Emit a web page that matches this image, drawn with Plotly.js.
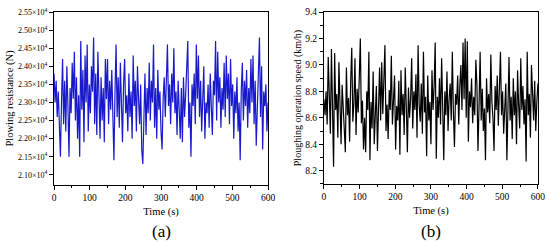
<!DOCTYPE html>
<html>
<head>
<meta charset="utf-8">
<script src="https://cdn.plot.ly/plotly-3.0.1.min.js"></script>
<style>
  body { margin: 0; background: #fff; }
  #chart { width: 550px; height: 242px; }
</style>
</head>
<body>
<div id="chart"></div>
<script>
// sampled every 3 s, 0..600 s
const timeStep = 3;

// plowing resistance, in units of 10^4 N
const resistance = [
  2.38, 2.30, 2.36, 2.26, 2.33, 2.21, 2.15, 2.30, 2.42, 2.24,
  2.36, 2.22, 2.40, 2.29, 2.15, 2.34, 2.27, 2.41, 2.31, 2.44,
  2.25, 2.37, 2.20, 2.32, 2.15, 2.47, 2.28, 2.39, 2.19, 2.43,
  2.30, 2.46, 2.22, 2.35, 2.27, 2.40, 2.33, 2.48, 2.24, 2.38,
  2.21, 2.44, 2.29, 2.20, 2.37, 2.25, 2.34, 2.19, 2.42, 2.31,
  2.42, 2.24, 2.36, 2.28, 2.39, 2.21, 2.14, 2.33, 2.46, 2.26,
  2.37, 2.23, 2.41, 2.30, 2.19, 2.35, 2.42, 2.27, 2.32, 2.22,
  2.38, 2.26, 2.33, 2.20, 2.43, 2.29, 2.36, 2.22, 2.40, 2.31,
  2.24, 2.35, 2.17, 2.13, 2.30, 2.38, 2.21, 2.34, 2.27, 2.41,
  2.25, 2.36, 2.30, 2.46, 2.23, 2.34, 2.20, 2.39, 2.28, 2.33,
  2.22, 2.17, 2.31, 2.37, 2.26, 2.40, 2.46, 2.29, 2.35, 2.24,
  2.38, 2.30, 2.45, 2.27, 2.33, 2.21, 2.36, 2.28, 2.20, 2.34,
  2.19, 2.37, 2.26, 2.32, 2.42, 2.47, 2.23, 2.30, 2.15, 2.35,
  2.29, 2.38, 2.24, 2.46, 2.31, 2.43, 2.26, 2.36, 2.22, 2.33,
  2.40, 2.20, 2.30, 2.27, 2.35, 2.23, 2.38, 2.29, 2.21, 2.36,
  2.32, 2.47, 2.25, 2.44, 2.30, 2.37, 2.23, 2.34, 2.28, 2.41,
  2.26, 2.43, 2.31, 2.38, 2.24, 2.42, 2.29, 2.35, 2.20, 2.33,
  2.27, 2.37, 2.22, 2.30, 2.14, 2.33, 2.41, 2.25, 2.36, 2.29,
  2.39, 2.23, 2.34, 2.27, 2.42, 2.30, 2.43, 2.24, 2.36, 2.18,
  2.31, 2.38, 2.48, 2.26, 2.40, 2.17, 2.33, 2.29, 2.35, 2.22,
  2.30
];

// ploughing operation speed, km/h
const speed = [
  8.74, 8.62, 8.80, 8.55, 9.06, 8.70, 8.48, 9.12, 8.60, 8.23,
  9.09, 8.66, 8.78, 8.45, 9.02, 8.58, 8.40, 8.85, 8.68, 8.52,
  8.34, 8.98, 8.62, 8.75, 8.42, 8.88, 9.13, 8.57, 8.71, 9.05,
  8.47, 8.82, 8.64, 8.90, 9.20, 8.56, 8.73, 8.36, 8.60, 8.34,
  8.80, 8.66, 9.10, 8.28, 8.72, 8.52, 8.95, 8.40, 8.68, 8.84,
  8.35, 8.76, 8.98, 8.58, 9.02, 8.63, 8.86, 9.15, 8.50, 8.70,
  8.44, 8.81, 8.66, 9.07, 8.55, 8.74, 8.92, 8.36, 8.69, 8.58,
  8.88, 8.32, 8.96, 8.62, 8.78, 8.47, 8.98, 8.68, 8.34, 8.83,
  8.60, 8.74, 9.05, 8.52, 8.80, 8.66, 8.93, 8.45, 9.15, 8.70,
  8.57, 8.86, 8.48, 9.10, 8.64, 8.76, 8.31, 8.92, 8.58, 8.72,
  8.40, 8.96, 8.66, 8.84, 9.17, 8.29, 8.76, 8.60, 8.90, 8.55,
  9.05, 8.68, 8.28, 8.80, 8.62, 8.95, 8.50, 8.74, 8.86, 8.58,
  9.10, 8.64, 8.38, 8.78, 8.70, 8.92, 8.55, 8.84, 9.00, 8.66,
  9.17, 8.74, 9.20, 8.60, 9.18, 8.42, 8.80, 8.68, 8.90, 8.56,
  8.76, 8.62, 9.04, 8.85, 8.35, 8.70, 9.10, 8.58, 8.82, 8.50,
  8.67, 8.28, 8.90, 8.64, 8.78, 8.56, 9.08, 8.72, 8.60, 8.35,
  8.84, 8.66, 8.92, 8.54, 8.75, 9.10, 8.62, 8.80, 8.48, 8.70,
  8.86, 8.28, 8.68, 9.06, 8.58, 8.76, 8.44, 8.90, 8.62, 8.80,
  8.40, 8.96, 8.70, 8.52, 9.05, 8.66, 8.84, 8.55, 8.74, 8.27,
  9.10, 8.62, 8.78, 8.45, 9.00, 8.68, 8.58, 8.88, 8.50, 8.72,
  8.86
];

const resTickVals = [2.10, 2.15, 2.20, 2.25, 2.30, 2.35, 2.40, 2.45, 2.50, 2.55];
const resTickText = resTickVals.map(v => v.toFixed(2) + '×10<sup>4</sup>');

const serif = 'Liberation Serif, Times New Roman, serif';

const axisCommon = {
  showline: true,
  linecolor: '#000',
  linewidth: 1,
  mirror: true,
  ticks: 'outside',
  ticklen: 4,
  tickwidth: 1,
  tickcolor: '#000',
  showgrid: false,
  zeroline: false,
  tickfont: { family: serif, size: 9.5, color: '#000' }
};

const traces = [
  {
    y: resistance, x0: 0, dx: timeStep,
    type: 'scatter', mode: 'lines',
    line: { color: '#1818cc', width: 1.2 },
    xaxis: 'x', yaxis: 'y'
  },
  {
    y: speed, x0: 0, dx: timeStep,
    type: 'scatter', mode: 'lines',
    line: { color: '#000', width: 1.2 },
    xaxis: 'x2', yaxis: 'y2'
  }
];

const xCommon = Object.assign({}, axisCommon, {
  range: [0, 600],
  tickvals: [0, 100, 200, 300, 400, 500, 600],
  minor: { dtick: 50, ticks: 'outside', ticklen: 2.5, tickcolor: '#000' },
  title: { text: 'Time (s)', font: { family: serif, size: 10.5, color: '#000' }, standoff: 5 }
});

const layout = {
  width: 550,
  height: 242,
  margin: { l: 0, r: 0, t: 0, b: 0 },
  paper_bgcolor: '#fff',
  plot_bgcolor: '#fff',
  showlegend: false,
  xaxis: Object.assign({}, xCommon, { domain: [0.0982, 0.4873], anchor: 'y' }),
  yaxis: Object.assign({}, axisCommon, {
    domain: [0.236, 0.950],
    anchor: 'x',
    range: [2.072, 2.55],
    tickvals: resTickVals,
    ticktext: resTickText,
    tickfont: { family: serif, size: 8, color: '#000' },
    title: { text: 'Plowing resistance (N)', font: { family: serif, size: 10.5, color: '#000' }, standoff: 2 }
  }),
  xaxis2: Object.assign({}, xCommon, { domain: [0.589, 0.978], anchor: 'y2' }),
  yaxis2: Object.assign({}, axisCommon, {
    domain: [0.240, 0.950],
    anchor: 'x2',
    range: [8.1, 9.4],
    dtick: 0.2,
    tick0: 8.2,
    tickformat: '.1f',
    minor: { dtick: 0.1, ticks: 'outside', ticklen: 2.5, tickcolor: '#000' },
    title: { text: 'Ploughing operation speed (km/h)', font: { family: serif, size: 10, color: '#000' }, standoff: 1 }
  }),
  annotations: [
    { text: '(a)', x: 161, y: 231, xref: 'paper', yref: 'paper', showarrow: false,
      xanchor: 'center', yanchor: 'middle',
      font: { family: serif, size: 17, color: '#000' } },
    { text: '(b)', x: 431, y: 231, xref: 'paper', yref: 'paper', showarrow: false,
      xanchor: 'center', yanchor: 'middle',
      font: { family: serif, size: 17, color: '#000' } }
  ]
};

// annotation positions given in pixels above; convert to paper fractions
layout.annotations.forEach(a => {
  a.x = a.x / layout.width;
  a.y = 1 - a.y / layout.height;
});

Plotly.newPlot('chart', traces, layout, { displayModeBar: false, staticPlot: true });
</script>
</body>
</html>
